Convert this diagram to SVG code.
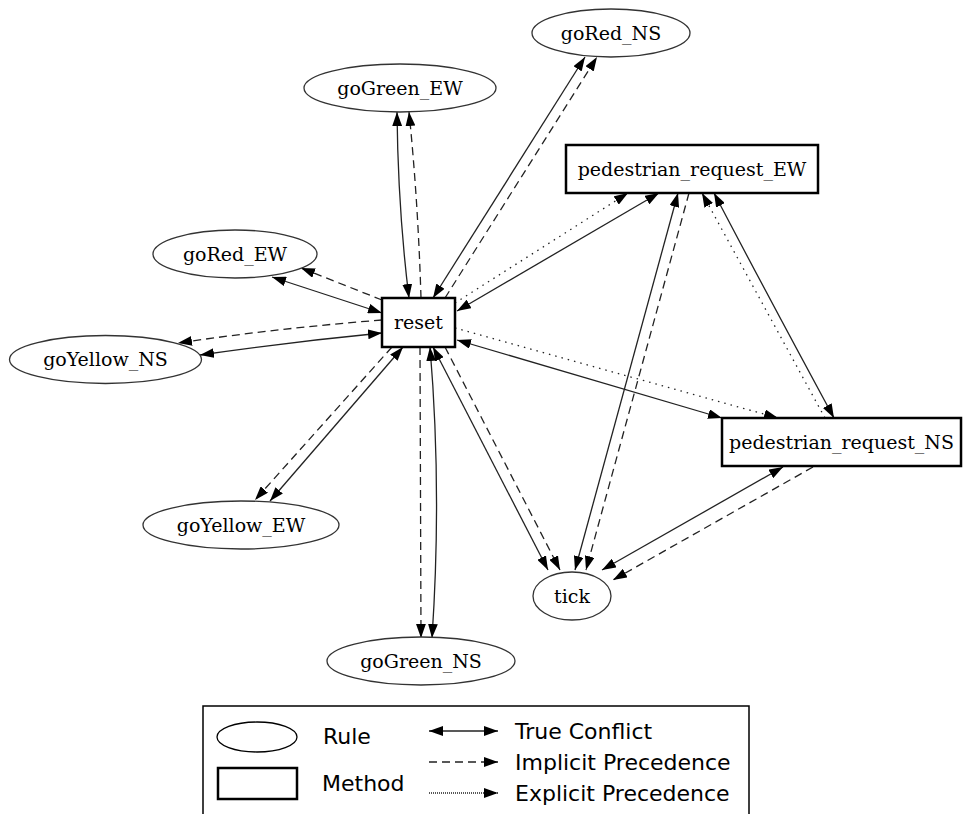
<svg xmlns="http://www.w3.org/2000/svg" width="963" height="814" viewBox="0 0 963 814">
<style>
.rule{fill:#fff;stroke:#333;stroke-width:1.3}
.method{fill:#fff;stroke:#000;stroke-width:2.5}
.lbl{font-family:"DejaVu Serif",serif;font-size:19px;fill:#000;text-anchor:middle}
.leg{font-family:"DejaVu Sans",sans-serif;font-size:22px;fill:#000}
.e{fill:none;stroke:#222;stroke-width:1.3}
.tc{marker-start:url(#ah);marker-end:url(#ah)}
.ip{stroke-dasharray:8,5;marker-end:url(#ah)}
.ep{stroke-dasharray:1.5,5;marker-end:url(#ah)}
</style>
<defs>
<marker id="ah" viewBox="0 0 10 7" refX="10" refY="3.5" markerUnits="userSpaceOnUse" markerWidth="14" markerHeight="9.8" orient="auto-start-reverse">
<path d="M0,0 L10,3.5 L0,7 z" fill="#000"/>
</marker>
</defs>
<rect width="963" height="814" fill="#fff"/>
<g id="connectors">
<path class="e tc" d="M397,112 Q398,210 409,298"/>
<path class="e ip" d="M421,298 Q418,200 409,112"/>
<path class="e tc" d="M433,298 L585,57"/>
<path class="e ip" d="M445,298 L597,57"/>
<path class="e tc" d="M382,313 L272,277"/>
<path class="e ip" d="M382,300 L301,268"/>
<path class="e tc" d="M382,333 Q290,342 200,355"/>
<path class="e ip" d="M382,320 Q280,328 178,343"/>
<path class="e tc" d="M403,347 L270,501"/>
<path class="e ip" d="M392,347 L255,500"/>
<path class="e tc" d="M430,347 Q442,490 432,638"/>
<path class="e ip" d="M420,347 L421,638"/>
<path class="e tc" d="M433,347 L548,570"/>
<path class="e ip" d="M445,347 L560,570"/>
<path class="e tc" d="M457,311 L659,193"/>
<path class="e ep" d="M455,303 L628,193"/>
<path class="e tc" d="M457,340 L722,418"/>
<path class="e ep" d="M455,328 L778,418"/>
<path class="e tc" d="M714,193 Q770,300 834,418"/>
<path class="e ep" d="M825,418 L702,193"/>
<path class="e tc" d="M678,193 L575,570"/>
<path class="e ip" d="M689,193 L586,570"/>
<path class="e tc" d="M783,467 L602,570"/>
<path class="e ip" d="M813,467 L613,580"/>
</g>
<g id="goRed_NS"><ellipse class="rule" cx="611" cy="33" rx="79" ry="24"/><text class="lbl" x="611" y="39.5">goRed_NS</text></g>
<g id="goGreen_EW"><ellipse class="rule" cx="400" cy="88" rx="96" ry="24"/><text class="lbl" x="400" y="94.5">goGreen_EW</text></g>
<g id="pedestrian_request_EW"><rect class="method" x="566" y="145" width="252" height="48"/><text class="lbl" x="692" y="175.5">pedestrian_request_EW</text></g>
<g id="goRed_EW"><ellipse class="rule" cx="235" cy="254" rx="82" ry="24"/><text class="lbl" x="235" y="260.5">goRed_EW</text></g>
<g id="reset"><rect class="method" x="382" y="298" width="73" height="49"/><text class="lbl" x="418.5" y="329">reset</text></g>
<g id="goYellow_NS"><ellipse class="rule" cx="105.5" cy="359.5" rx="96" ry="24"/><text class="lbl" x="105.5" y="366">goYellow_NS</text></g>
<g id="pedestrian_request_NS"><rect class="method" x="722" y="418" width="239" height="48"/><text class="lbl" x="841.5" y="448.5">pedestrian_request_NS</text></g>
<g id="goYellow_EW"><ellipse class="rule" cx="241" cy="525" rx="98" ry="24"/><text class="lbl" x="241" y="531.5">goYellow_EW</text></g>
<g id="tick"><ellipse class="rule" cx="572" cy="596" rx="39" ry="24"/><text class="lbl" x="572" y="602.5">tick</text></g>
<g id="goGreen_NS"><ellipse class="rule" cx="421" cy="661" rx="94" ry="24"/><text class="lbl" x="421" y="667.5">goGreen_NS</text></g>
<g id="legend">
<path d="M203,814 V706 H749 V814" fill="none" stroke="#000" stroke-width="1.5"/>
<ellipse cx="257" cy="737" rx="40" ry="15" fill="#fff" stroke="#000" stroke-width="1.3"/>
<rect x="218" y="768" width="79" height="31" fill="#fff" stroke="#000" stroke-width="2.5"/>
<text class="leg" x="323" y="744">Rule</text>
<text class="leg" x="322" y="791">Method</text>
<path class="e tc" d="M429,731 L498,731" stroke="#000" stroke-width="1.5"/>
<path class="e ip" d="M429,762 L498,762" stroke="#000" stroke-width="1.5" stroke-dasharray="6,4"/>
<path class="e" d="M429,793 L498,793" stroke="#000" stroke-dasharray="1,1" marker-end="url(#ah)"/>
<text class="leg" x="515" y="739">True Conflict</text>
<text class="leg" x="515" y="770">Implicit Precedence</text>
<text class="leg" x="515" y="801">Explicit Precedence</text>
</g>
</svg>
